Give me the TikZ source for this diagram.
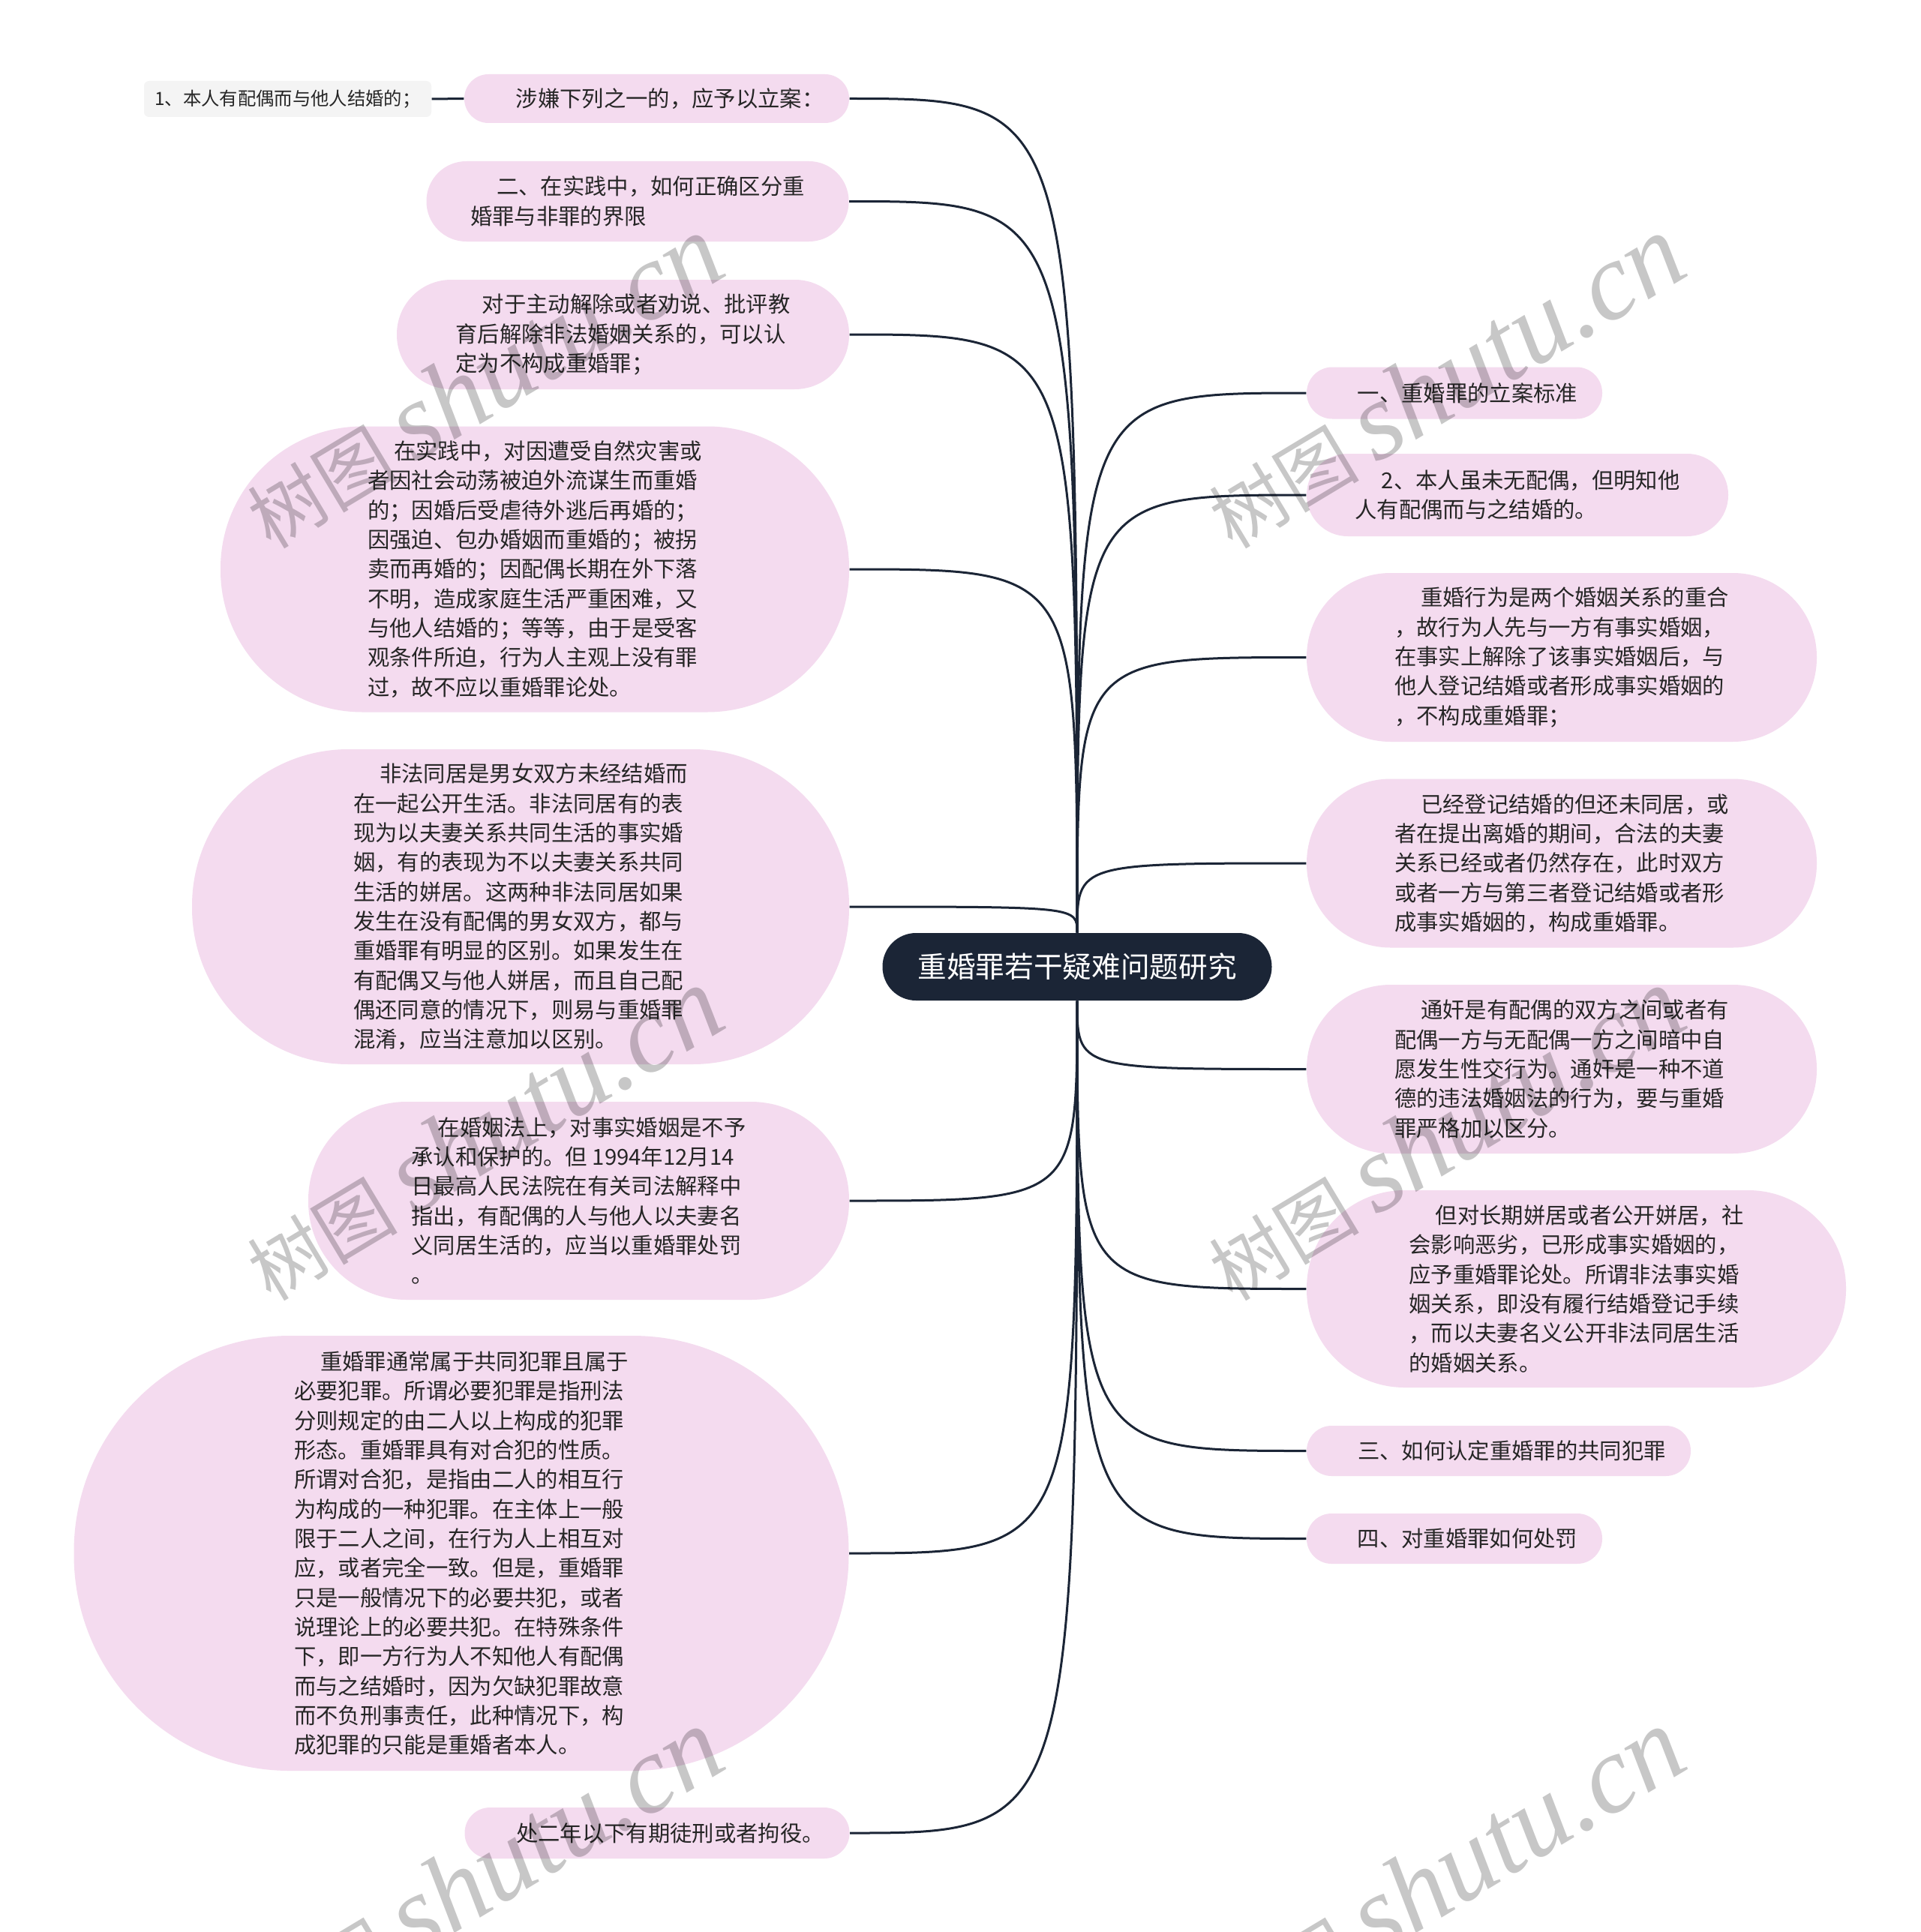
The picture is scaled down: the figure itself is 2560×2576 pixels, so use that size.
\documentclass[tikz,border=0pt]{standalone}
\usepackage{fontspec}
\setmainfont{Noto Sans CJK SC}
\newfontfamily\wmfont{Liberation Serif}
\usetikzlibrary{calc}
\definecolor{pinkfill}{HTML}{F4DBEF}
\definecolor{rootfill}{HTML}{1B2536}
\definecolor{linecol}{HTML}{1B2536}
\definecolor{txt}{HTML}{262626}
\definecolor{greyfill}{HTML}{F4F4F4}
\newcommand{\ind}{\hspace*{1.2em}}
\tikzset{
  pill/.style 2 args={fill=pinkfill, draw=none, inner sep=0pt,
    minimum width=#1*0.3pt, minimum height=#2*0.3pt, rounded corners=#2*0.149pt,
    align=left, text=txt, font=\fontsize{8.8}{11.8}\selectfont},
  greybox/.style={fill=greyfill, draw=none, inner sep=0pt,
    minimum width=383*0.3pt, minimum height=48*0.3pt, rounded corners=2pt,
    text=txt, font=\fontsize{7.3}{9}\selectfont},
  rootbox/.style={fill=rootfill, draw=none, inner sep=0pt,
    minimum width=519*0.3pt, minimum height=90*0.3pt, rounded corners=90*0.149pt,
    text=white, font=\fontsize{11.6}{14}\selectfont},
  conn/.style={draw=linecol, line width=0.9pt},
  wm/.style={text=black, opacity=0.22, rotate=31, inner sep=0pt}
}
\begin{document}
\begin{tikzpicture}[x=0.3pt,y=-0.3pt]
\useasboundingbox[fill=white] (0,0) rectangle (2560,2576);

% root
\node[rootbox] (root) at (1436,1289) {重婚罪若干疑难问题研究};

% left nodes
\node[pill={513}{65}] (n1) at (875.5,131.5) {\ind 涉嫌下列之一的，应予以立案：};
\node[greybox] (g1) at (383.5,132) {1、本人有配偶而与他人结婚的；};
\node[pill={563}{107}] (n2) at (850,268.5) {\ind 二、在实践中，如何正确区分重\\婚罪与非罪的界限};
\node[pill={603}{146}] (n3) at (830.5,446) {\ind 对于主动解除或者劝说、批评教\\育后解除非法婚姻关系的，可以认\\定为不构成重婚罪；};
\node[pill={838}{381}] (n4) at (713,759) {\ind 在实践中，对因遭受自然灾害或\\者因社会动荡被迫外流谋生而重婚\\的；因婚后受虐待外逃后再婚的；\\因强迫、包办婚姻而重婚的；被拐\\卖而再婚的；因配偶长期在外下落\\不明，造成家庭生活严重困难，又\\与他人结婚的；等等，由于是受客\\观条件所迫，行为人主观上没有罪\\过，故不应以重婚罪论处。};
\node[pill={876}{420}] (n5) at (694,1209) {\ind 非法同居是男女双方未经结婚而\\在一起公开生活。非法同居有的表\\现为以夫妻关系共同生活的事实婚\\姻，有的表现为不以夫妻关系共同\\生活的姘居。这两种非法同居如果\\发生在没有配偶的男女双方，都与\\重婚罪有明显的区别。如果发生在\\有配偶又与他人姘居，而且自己配\\偶还同意的情况下，则易与重婚罪\\混淆，应当注意加以区别。};
\node[pill={721}{264}] (n6) at (771.5,1601) {\ind 在婚姻法上，对事实婚姻是不予\\承认和保护的。但 1994年12月14\\日最高人民法院在有关司法解释中\\指出，有配偶的人与他人以夫妻名\\义同居生活的，应当以重婚罪处罚\\。};
\node[pill={1033}{580}] (n7) at (615,2071) {\ind 重婚罪通常属于共同犯罪且属于\\必要犯罪。所谓必要犯罪是指刑法\\分则规定的由二人以上构成的犯罪\\形态。重婚罪具有对合犯的性质。\\所谓对合犯，是指由二人的相互行\\为构成的一种犯罪。在主体上一般\\限于二人之间，在行为人上相互对\\应，或者完全一致。但是，重婚罪\\只是一般情况下的必要共犯，或者\\说理论上的必要共犯。在特殊条件\\下，即一方行为人不知他人有配偶\\而与之结婚时，因为欠缺犯罪故意\\而不负刑事责任，此种情况下，构\\成犯罪的只能是重婚者本人。};
\node[pill={513}{68}] (n8) at (876,2444) {\ind 处二年以下有期徒刑或者拘役。};

% right nodes
\node[pill={394}{69}] (r1) at (1939,524) {\ind 一、重婚罪的立案标准};
\node[pill={562}{110}] (r2) at (2023,660) {\ind 2、本人虽未无配偶，但明知他\\人有配偶而与之结婚的。};
\node[pill={680}{225}] (r3) at (2082,876.5) {\ind 重婚行为是两个婚姻关系的重合\\，故行为人先与一方有事实婚姻，\\在事实上解除了该事实婚姻后，与\\他人登记结婚或者形成事实婚姻的\\，不构成重婚罪；};
\node[pill={680}{225}] (r4) at (2082,1151) {\ind 已经登记结婚的但还未同居，或\\者在提出离婚的期间，合法的夫妻\\关系已经或者仍然存在，此时双方\\或者一方与第三者登记结婚或者形\\成事实婚姻的，构成重婚罪。};
\node[pill={680}{225}] (r5) at (2082,1425.5) {\ind 通奸是有配偶的双方之间或者有\\配偶一方与无配偶一方之间暗中自\\愿发生性交行为。通奸是一种不道\\德的违法婚姻法的行为，要与重婚\\罪严格加以区分。};
\node[pill={719}{263}] (r6) at (2101.5,1718.5) {\ind 但对长期姘居或者公开姘居，社\\会影响恶劣，已形成事实婚姻的，\\应予重婚罪论处。所谓非法事实婚\\姻关系，即没有履行结婚登记手续\\，而以夫妻名义公开非法同居生活\\的婚姻关系。};
\node[pill={512}{67}] (r7) at (1998,1934.5) {\ind 三、如何认定重婚罪的共同犯罪};
\node[pill={394}{67}] (r8) at (1939,2051.5) {\ind 四、对重婚罪如何处罚};

% connectors
\draw[conn] (n1.west) -- (g1.east);
\foreach \n in {n1,n2,n3,n4,n5}{
  \draw[conn] (root.north) .. controls (root.north |- \n.east) and (root.north |- \n.east) .. (\n.east);
}
\foreach \n in {n6,n7,n8}{
  \draw[conn] (root.south) .. controls (root.south |- \n.east) and (root.south |- \n.east) .. (\n.east);
}
\foreach \n in {r1,r2,r3,r4}{
  \draw[conn] (root.north) .. controls (root.north |- \n.west) and (root.north |- \n.west) .. (\n.west);
}
\foreach \n in {r5,r6,r7,r8}{
  \draw[conn] (root.south) .. controls (root.south |- \n.west) and (root.south |- \n.west) .. (\n.west);
}

% watermarks
\node[wm] (wm1) at (644,509) {\fontsize{30}{30}\selectfont 树图 {\wmfont\itshape\fontsize{44}{44}\selectfont shutu.cn}};
\node[wm] (wm2) at (1926,509) {\fontsize{30}{30}\selectfont 树图 {\wmfont\itshape\fontsize{44}{44}\selectfont shutu.cn}};
\node[wm] (wm3) at (644,1512) {\fontsize{30}{30}\selectfont 树图 {\wmfont\itshape\fontsize{44}{44}\selectfont shutu.cn}};
\node[wm] (wm4) at (1926,1512) {\fontsize{30}{30}\selectfont 树图 {\wmfont\itshape\fontsize{44}{44}\selectfont shutu.cn}};
\node[wm] (wm5) at (644,2500) {\fontsize{30}{30}\selectfont 树图 {\wmfont\itshape\fontsize{44}{44}\selectfont shutu.cn}};
\node[wm] (wm6) at (1926,2500) {\fontsize{30}{30}\selectfont 树图 {\wmfont\itshape\fontsize{44}{44}\selectfont shutu.cn}};
\end{tikzpicture}
\end{document}
